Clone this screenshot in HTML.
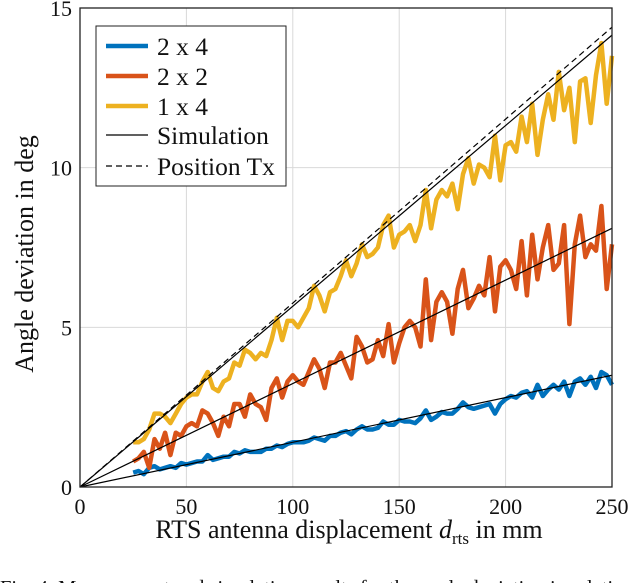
<!DOCTYPE html>
<html><head><meta charset="utf-8"><style>
html,body{margin:0;padding:0;background:#fff;overflow:hidden;width:640px;height:583px}
svg{display:block}
text{font-family:"Liberation Serif",serif;fill:#111}
</style></head><body>
<svg id="chart" width="640" height="583" viewBox="0 0 640 583">
<g id="grid"></g>
<g id="series"></g>
<rect x="80" y="8" width="532" height="479" fill="none" stroke="#222" stroke-width="1.3"/>
<g id="ticks"></g>
<text x="349" y="538" font-size="26" text-anchor="middle">RTS antenna displacement <tspan font-style="italic">d</tspan><tspan font-size="17" dy="6">rts</tspan><tspan dy="-6"> in mm</tspan></text>
<text transform="translate(33,254) rotate(-90)" font-size="26" text-anchor="middle">Angle deviation in deg</text>
<text x="0" y="594" font-size="20.5">Fig. 4.   Measurement and simulation results for the angle deviation in relation</text>
<g>
<rect x="96" y="26" width="190" height="160" fill="#fff" stroke="#222" stroke-width="1"/>
<g><line x1="106" y1="46" x2="148" y2="46" stroke="#0072BD" stroke-width="4.5"/><text x="157" y="55" font-size="25.5">2 x 4</text></g>
<g><line x1="106" y1="76" x2="148" y2="76" stroke="#D95319" stroke-width="4.5"/><text x="157" y="85" font-size="25.5">2 x 2</text></g>
<g><line x1="106" y1="106" x2="148" y2="106" stroke="#EDB120" stroke-width="4.5"/><text x="157" y="115" font-size="25.5">1 x 4</text></g>
<g><line x1="106" y1="135" x2="148" y2="135" stroke="#000" stroke-width="1.2"/><text x="157" y="144" font-size="25.5">Simulation</text></g>
<g><line x1="106" y1="166" x2="148" y2="166" stroke="#000" stroke-width="1.2" stroke-dasharray="6,4"/><text x="157" y="175" font-size="25.5">Position Tx</text></g>
</g>
</svg>
<script>
const xTicks = [0, 50, 100, 150, 200, 250];
const yTicks = [0, 5, 10, 15];
const xStart = 25, xStep = 2.5;
const blue = [0.45,0.5,0.4,0.6,0.65,0.55,0.6,0.65,0.6,0.75,0.7,0.75,0.8,0.8,1.0,0.85,0.9,0.95,0.95,1.1,1.05,1.15,1.1,1.1,1.1,1.2,1.2,1.3,1.25,1.35,1.4,1.4,1.4,1.45,1.55,1.5,1.45,1.6,1.6,1.7,1.75,1.65,1.8,1.9,1.8,1.8,1.85,2.05,1.95,1.95,2.1,2.05,2.05,2.0,2.15,2.4,2.1,2.2,2.35,2.3,2.3,2.45,2.65,2.5,2.45,2.5,2.55,2.6,2.3,2.6,2.75,2.85,2.8,2.95,3.0,2.8,3.2,2.85,3.05,3.2,3.05,3.3,2.85,3.3,3.4,3.2,3.45,3.1,3.6,3.5,3.2];
const orange = [0.8,0.9,1.1,0.6,1.5,1.2,1.7,1.0,1.7,1.6,1.9,2.0,1.9,2.4,2.3,2.0,1.6,2.2,1.9,2.6,2.6,2.2,2.9,2.6,2.5,2.1,3.1,3.4,2.8,3.3,3.5,3.3,3.2,3.6,4.0,3.7,3.1,3.9,3.9,4.2,3.8,3.4,4.7,4.4,3.9,4.0,4.6,4.1,5.1,3.9,4.5,5.0,5.2,5.0,4.4,6.5,4.6,5.8,6.1,5.8,4.8,6.2,6.8,5.6,5.9,6.3,6.0,7.2,5.5,6.9,7.1,6.8,6.2,7.7,6.0,7.9,6.5,7.5,8.2,6.8,7.0,8.2,5.1,7.6,8.5,7.2,7.6,7.4,8.8,6.2,7.6];
const yellow = [1.4,1.4,1.5,1.8,2.3,2.3,2.2,2.0,2.3,2.6,2.8,2.9,2.9,3.3,3.6,3.1,3.0,3.3,3.4,3.9,3.8,4.3,4.2,4.0,4.2,4.1,4.6,5.3,4.6,5.2,5.2,5.0,5.3,5.6,6.3,6.0,5.5,6.1,6.2,6.6,7.1,6.6,7.0,7.6,7.2,7.3,7.5,8.2,8.5,7.5,7.9,8.0,8.2,7.7,8.2,9.3,8.1,9.0,9.3,9.1,9.5,8.7,9.8,10.3,9.5,10.1,10.0,9.7,11.0,9.6,10.7,10.8,10.5,11.6,10.8,12.0,10.4,11.5,12.3,11.5,13.0,11.8,12.5,10.8,12.7,12.8,11.4,12.9,13.9,12.0,13.5];
const simEnd = [3.5, 8.1, 14.15];
const txEnd = [14.4];
const NS = "http://www.w3.org/2000/svg";
const sx = v => 80 + v / 250 * 532;
const sy = v => 487 - v / 15 * 479;
function mk(tag, parent, attrs){const e=document.createElementNS(NS,tag);for(const k in attrs)e.setAttribute(k,attrs[k]);parent.appendChild(e);return e;}
const grid=document.getElementById('grid'), ticks=document.getElementById('ticks'), ser=document.getElementById('series');
xTicks.forEach(t=>{
  const l=mk('line',grid,{x1:sx(t),x2:sx(t),y1:8,y2:487,stroke:'#d9d9d9','stroke-width':1});
  
  
  const tx=mk('text',ticks,{x:sx(t),y:514,'font-size':22,'text-anchor':'middle'});
  tx.textContent=t;
  
  
});
yTicks.forEach(t=>{
  const l=mk('line',grid,{x1:80,x2:612,y1:sy(t),y2:sy(t),stroke:'#d9d9d9','stroke-width':1});
  
  
  const tx=mk('text',ticks,{x:72,y:sy(t)+8,'font-size':22,'text-anchor':'end'});
  tx.textContent=t;
  
  
});
function series(arr,color,name){
  const pts=arr.map((v,i)=>sx(xStart+i*xStep).toFixed(1)+','+sy(v).toFixed(1)).join(' ');
  const p=mk('polyline',ser,{points:pts,fill:'none',stroke:color,'stroke-width':4.5,'stroke-linejoin':'round'});
  
  
}
series(blue,'#0072BD','series-2x4');
series(orange,'#D95319','series-2x2');
series(yellow,'#EDB120','series-1x4');
simEnd.forEach(v=>{
  const l=mk('line',ser,{x1:sx(0),y1:sy(0),x2:sx(250),y2:sy(v),stroke:'#000','stroke-width':1.2});
  
  
});
txEnd.forEach(v=>{
  const l=mk('line',ser,{x1:sx(0),y1:sy(0),x2:sx(250),y2:sy(v),stroke:'#000','stroke-width':1.2,'stroke-dasharray':'6,4'});
  
  
});
</script>
</body></html>
